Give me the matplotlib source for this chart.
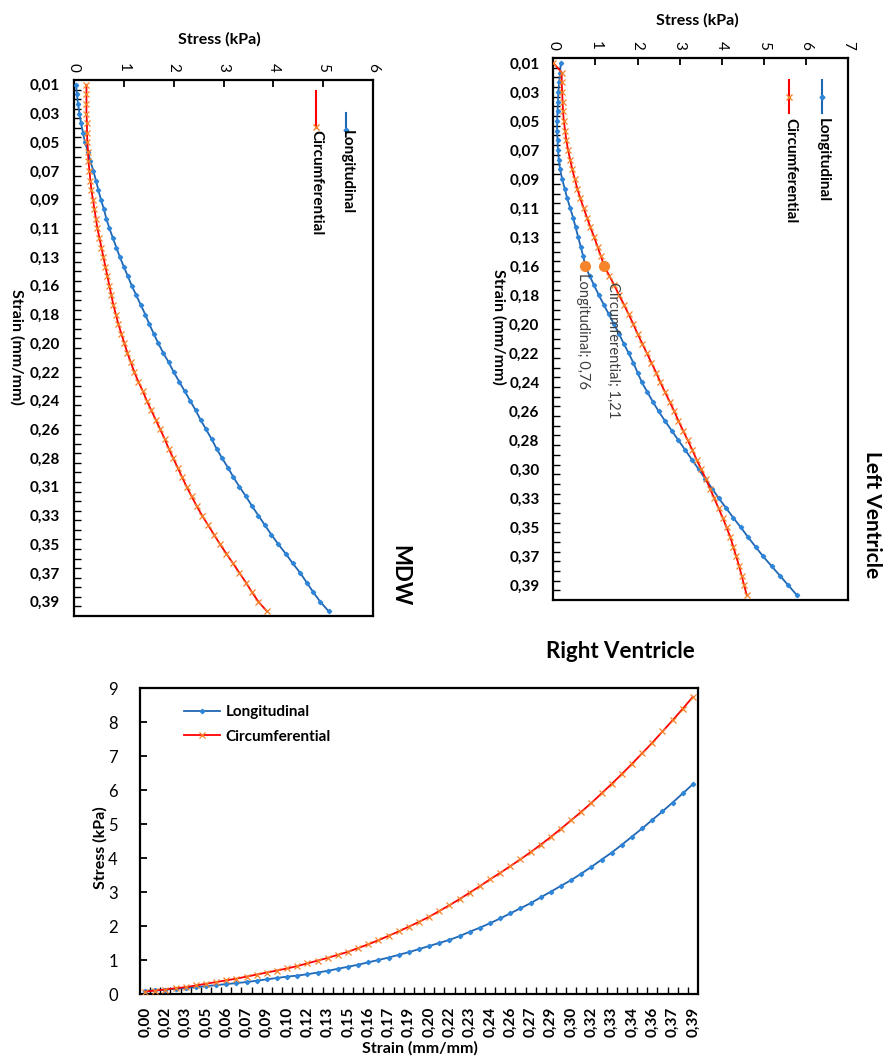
import matplotlib
matplotlib.use("Agg")
import matplotlib.pyplot as plt
from matplotlib.lines import Line2D
import numpy as np

W, H = 883, 1057
plt.rcParams['font.family'] = ['Lato', 'DejaVu Sans']

# ---------------- data (stress in kPa per strain category) ----------------
lv_long = [0.18, 0.16, 0.14, 0.12, 0.11, 0.10, 0.09, 0.09, 0.10, 0.11,
           0.13, 0.16, 0.21, 0.27, 0.33, 0.40, 0.47, 0.53, 0.59, 0.65,
           0.71, 0.76, 0.86, 0.97, 1.08, 1.20, 1.32, 1.44, 1.56, 1.67,
           1.79, 1.90, 2.00, 2.10, 2.23, 2.36, 2.50, 2.65, 2.81, 2.97,
           3.13, 3.29, 3.45, 3.61, 3.77, 3.93, 4.10, 4.27, 4.45, 4.62,
           4.80, 4.98, 5.18, 5.38, 5.58, 5.78]
lv_circ = [0.00, 0.20, 0.20, 0.21, 0.22, 0.23, 0.25, 0.28, 0.31, 0.35,
           0.40, 0.45, 0.51, 0.57, 0.64, 0.72, 0.80, 0.88, 0.97, 1.05,
           1.13, 1.21, 1.33, 1.45, 1.56, 1.68, 1.79, 1.90, 2.00, 2.11,
           2.22, 2.33, 2.44, 2.54, 2.65, 2.76, 2.87, 2.97, 3.08, 3.19,
           3.30, 3.40, 3.51, 3.62, 3.72, 3.82, 3.92, 4.02, 4.11, 4.20,
           4.27, 4.34, 4.41, 4.47, 4.53, 4.59]
mdw_long = [0.04, 0.06, 0.08, 0.11, 0.14, 0.18, 0.22, 0.28, 0.33, 0.39,
            0.44, 0.49, 0.54, 0.60, 0.65, 0.71, 0.78, 0.85, 0.92, 1.00,
            1.08, 1.16, 1.25, 1.34, 1.43, 1.51, 1.60, 1.69, 1.79, 1.90,
            2.00, 2.11, 2.22, 2.33, 2.44, 2.54, 2.65, 2.76, 2.86, 2.97,
            3.09, 3.20, 3.32, 3.45, 3.57, 3.70, 3.83, 3.96, 4.10, 4.25,
            4.39, 4.54, 4.67, 4.80, 4.94, 5.11]
mdw_circ = [0.25, 0.25, 0.25, 0.25, 0.26, 0.26, 0.27, 0.28, 0.29, 0.31,
            0.33, 0.35, 0.38, 0.41, 0.44, 0.47, 0.51, 0.55, 0.59, 0.63,
            0.67, 0.71, 0.75, 0.79, 0.84, 0.89, 0.95, 1.01, 1.07, 1.14,
            1.21, 1.29, 1.38, 1.46, 1.55, 1.64, 1.73, 1.82, 1.90, 1.99,
            2.08, 2.17, 2.26, 2.36, 2.46, 2.57, 2.69, 2.81, 2.93, 3.06,
            3.19, 3.32, 3.45, 3.57, 3.70, 3.87]
rv_long = [0.10, 0.12, 0.14, 0.16, 0.18, 0.21, 0.24, 0.27, 0.30, 0.33,
           0.36, 0.40, 0.44, 0.48, 0.52, 0.55, 0.59, 0.64, 0.69, 0.75,
           0.81, 0.87, 0.94, 1.01, 1.08, 1.16, 1.24, 1.33, 1.42, 1.51,
           1.60, 1.71, 1.84, 1.96, 2.09, 2.23, 2.38, 2.53, 2.68, 2.85,
           3.02, 3.19, 3.36, 3.55, 3.75, 3.96, 4.17, 4.40, 4.64, 4.88,
           5.13, 5.38, 5.64, 5.91, 6.18]
rv_circ = [0.08, 0.11, 0.14, 0.18, 0.21, 0.26, 0.31, 0.36, 0.41, 0.46,
           0.52, 0.58, 0.64, 0.70, 0.76, 0.83, 0.91, 0.99, 1.07, 1.16,
           1.25, 1.36, 1.47, 1.59, 1.72, 1.85, 1.99, 2.13, 2.28, 2.45,
           2.62, 2.80, 2.99, 3.18, 3.38, 3.57, 3.77, 3.97, 4.18, 4.40,
           4.63, 4.87, 5.12, 5.37, 5.63, 5.91, 6.19, 6.48, 6.78, 7.09,
           7.40, 7.73, 8.06, 8.40, 8.75]

lv_strain_labels = ["0,01", "0,03", "0,05", "0,07", "0,09", "0,11", "0,13",
                    "0,16", "0,18", "0,20", "0,22", "0,24", "0,26", "0,28",
                    "0,30", "0,33", "0,35", "0,37", "0,39"]
mdw_strain_labels = ["0,01", "0,03", "0,05", "0,07", "0,09", "0,11", "0,13",
                     "0,16", "0,18", "0,20", "0,22", "0,24", "0,26", "0,28",
                     "0,31", "0,33", "0,35", "0,37", "0,39"]
rv_strain_labels = ["0,00", "0,02", "0,03", "0,05", "0,06", "0,07", "0,09",
                    "0,10", "0,12", "0,13", "0,15", "0,16", "0,17", "0,19",
                    "0,20", "0,22", "0,23", "0,24", "0,26", "0,27", "0,29",
                    "0,30", "0,32", "0,33", "0,34", "0,36", "0,37", "0,39"]
series_names = ["Longitudinal", "Circumferential"]
lv_label_index = 21

BLUE_LINE = '#1F66B3'
BLUE_MK = '#2F86D8'
RED_LINE = '#FF0000'
ORANGE_MK = '#F5842A'

TICK_FS = 11
AXT_FS = 11.5
LEG_FS = 11
TITLE_FS = 16

fig = plt.figure(figsize=(W / 100, H / 100), dpi=100)


def rect(l, t, r, b):
    return [l / W, 1 - b / H, (r - l) / W, (b - t) / H]


def P(x, y):
    return (x / W, 1 - y / H)


def rotated_panel(box, long_vals, circ_vals, labels, xmax):
    ax = fig.add_axes(rect(*box))
    n = len(long_vals)
    idx = np.arange(n)
    ax.plot(long_vals, idx, color=BLUE_LINE, lw=1.3, marker='D', ms=2.2,
            mfc=BLUE_MK, mec=BLUE_MK, zorder=3)
    ax.plot(circ_vals, idx, color=RED_LINE, lw=1.3, marker='x', ms=4.5,
            mew=0.9, mec=ORANGE_MK, zorder=3)
    ax.set_xlim(0, xmax)
    ax.set_ylim(n - 0.5, -0.5)
    ax.xaxis.tick_top()
    ax.set_xticks(range(xmax + 1))
    ax.set_xticklabels([str(v) for v in range(xmax + 1)], rotation=-90,
                       fontsize=TICK_FS)
    ax.tick_params(axis='x', direction='in', length=5, width=1.3, pad=6)
    ax.set_yticks(np.arange(0, 3 * len(labels), 3))
    ax.set_yticklabels(labels, fontsize=TICK_FS, fontweight='bold')
    ax.set_yticks(np.arange(0.5, n - 0.5, 1), minor=True)
    ax.tick_params(axis='y', which='major', length=0, pad=10)
    ax.tick_params(axis='y', which='minor', direction='in', length=5, width=1)
    for s in ax.spines.values():
        s.set_linewidth(1.6)
    return ax


def vlegend(x, y1, y2, ymk, ytext, name, color, mk, mkc, ms):
    fig.add_artist(Line2D([x / W, x / W], [1 - y1 / H, 1 - y2 / H],
                          color=color, lw=1.5, transform=fig.transFigure))
    fig.add_artist(Line2D([x / W], [1 - ymk / H], marker=mk, ms=ms, mfc=mkc,
                          mec=mkc, lw=0, transform=fig.transFigure))
    fig.text(*P(x + 1, ytext), name, rotation=-90, ha='center', va='top',
             fontsize=LEG_FS, fontweight='bold')


# ---------------- MDW (top left) ----------------
ax1 = rotated_panel((74, 80, 373, 616), mdw_long, mdw_circ, mdw_strain_labels, 6)
fig.text(*P(219, 39), "Stress (kPa)", ha='center', va='center', fontsize=AXT_FS,
         fontweight='bold')
fig.text(*P(17, 347), "Strain (mm/mm)", rotation=-90, ha='center', va='center',
         fontsize=AXT_FS, fontweight='bold')
fig.text(*P(400, 576), "MDW", rotation=-90, ha='center', va='center',
         fontsize=TITLE_FS, fontweight='bold')
vlegend(345.7, 113, 133, 130, 130, series_names[0], BLUE_LINE, 'D', BLUE_MK, 2.5)
vlegend(315.7, 91, 128, 127, 130, series_names[1], RED_LINE, 'x', ORANGE_MK, 4.5)

# ---------------- Left Ventricle (top right) ----------------
ax2 = rotated_panel((553.3, 58, 848.3, 600), lv_long, lv_circ, lv_strain_labels, 7)
fig.text(*P(697, 20), "Stress (kPa)", ha='center', va='center', fontsize=AXT_FS,
         fontweight='bold')
fig.text(*P(499, 327), "Strain (mm/mm)", rotation=-90, ha='center', va='center',
         fontsize=AXT_FS, fontweight='bold')
fig.text(*P(872, 515), "Left Ventricle", rotation=-90, ha='center', va='center',
         fontsize=15, fontweight='bold')
vlegend(821.7, 80, 113, 97, 118, series_names[0], BLUE_LINE, 'D', BLUE_MK, 2.5)
vlegend(789, 80, 113, 97, 118, series_names[1], RED_LINE, 'x', ORANGE_MK, 4.5)

label_offsets = [(-1.5, -5), (6.5, -11.5)]
for name, vals, off in zip(series_names, [lv_long, lv_circ], label_offsets):
    v = vals[lv_label_index]
    ax2.plot([v], [lv_label_index], 'o', color=ORANGE_MK, ms=7, zorder=4)
    ax2.annotate(f"{name}; {v:.2f}".replace('.', ','), xy=(v, lv_label_index),
                 xytext=off, textcoords='offset points', rotation=-90,
                 ha='center', va='top', fontsize=10.5, color='#404040')

# ---------------- Right Ventricle (bottom) ----------------
ax3 = fig.add_axes(rect(140, 688.3, 698, 994.3))
n = len(rv_long)
idx = np.arange(n)
ax3.plot(idx, rv_long, color=BLUE_LINE, lw=1.3, marker='D', ms=2.2,
         mfc=BLUE_MK, mec=BLUE_MK, zorder=3, label=series_names[0])
ax3.plot(idx, rv_circ, color=RED_LINE, lw=1.3, marker='x', ms=4.5, mew=0.9,
         mec=ORANGE_MK, zorder=3, label=series_names[1])
ax3.set_xlim(-0.5, n - 0.5)
ax3.set_ylim(0, 9)
ax3.set_xticks(np.arange(0, 2 * len(rv_strain_labels), 2))
ax3.set_xticklabels(rv_strain_labels, rotation=90, fontsize=TICK_FS,
                    fontweight='bold')
ax3.set_xticks(np.arange(0.5, n - 0.5, 1), minor=True)
ax3.tick_params(axis='x', which='major', length=0, pad=9)
ax3.tick_params(axis='x', which='minor', direction='in', length=5, width=1)
ax3.set_yticks(range(10))
ax3.tick_params(axis='y', direction='in', length=5, width=1.3, pad=16,
                labelsize=12)
for s in ax3.spines.values():
    s.set_linewidth(1.6)
fig.text(*P(420, 1048), "Strain (mm/mm)", ha='center', va='center',
         fontsize=AXT_FS, fontweight='bold')
fig.text(*P(100, 848), "Stress (kPa)", rotation=90, ha='center', va='center',
         fontsize=AXT_FS, fontweight='bold')
fig.text(*P(620, 652), "Right Ventricle", ha='center', va='center',
         fontsize=TITLE_FS, fontweight='bold')
ax3.legend(loc='upper left', bbox_to_anchor=(0.055, 0.99), frameon=False,
           prop={'weight': 'bold', 'size': LEG_FS}, handlelength=2.3,
           handletextpad=0.4, labelspacing=0.7)

fig.savefig("out.png", dpi=100)
